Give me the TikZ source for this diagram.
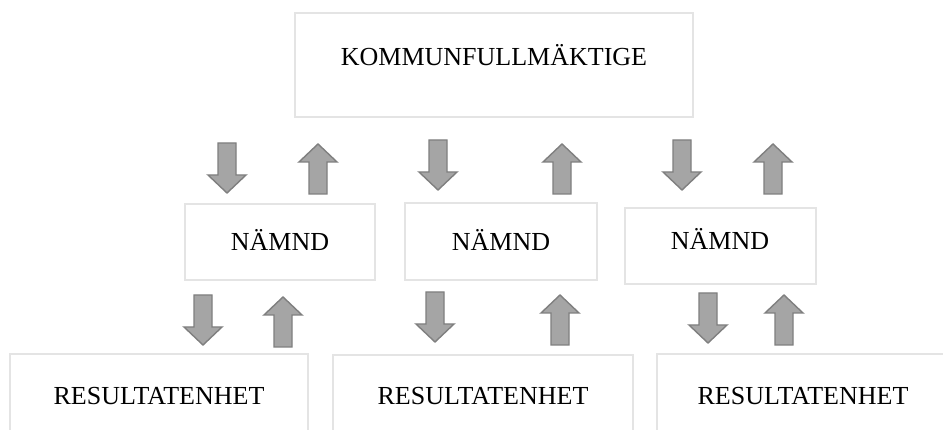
\documentclass[tikz,border=0pt]{standalone}
\usepackage{fontspec}
\setmainfont{Liberation Serif}
\definecolor{boxline}{HTML}{E4E4E4}
\definecolor{arrfill}{HTML}{A5A5A5}
\definecolor{arrline}{HTML}{7F7F7F}
\tikzset{
  orgbox/.style={draw=boxline, line width=2pt, fill=white},
  lbl/.style={anchor=base, inner sep=0pt, font=\fontsize{26}{30}\selectfont},
  blockarrow/.style={fill=arrfill, draw=arrline, line width=1.4pt, line join=miter},
  dnarrow/.pic={\path[blockarrow] (-9,0) -- (9,0) -- (9,32) -- (19,32) -- (0,50) -- (-19,32) -- (-9,32) -- cycle;},
  uparrow/.pic={\path[blockarrow] (-9,0) -- (9,0) -- (9,-32) -- (19,-32) -- (0,-50) -- (-19,-32) -- (-9,-32) -- cycle;}
}
\begin{document}
\begin{tikzpicture}[x=1pt,y=-1pt]
\useasboundingbox (0,0) rectangle (943,430);
\fill[white] (0,0) rectangle (943,430);
% boxes
\draw[orgbox] (295,13) rectangle (693,117);
\node[lbl] (kf) at (494,66) {KOMMUNFULLMÄKTIGE};
\draw[orgbox] (185,204) rectangle (375,280);
\node[lbl] (n1) at (280,251) {NÄMND};
\draw[orgbox] (405,203) rectangle (597,280);
\node[lbl] (n2) at (501,251) {NÄMND};
\draw[orgbox] (625,208) rectangle (816,284);
\node[lbl] (n3) at (720,250) {NÄMND};
\draw[orgbox] (10,354) rectangle (308,445);
\node[lbl] (r1) at (159,405) {RESULTATENHET};
\draw[orgbox] (333,355) rectangle (633,445);
\node[lbl] (r2) at (483,405) {RESULTATENHET};
\draw[orgbox] (657,354) rectangle (960,445);
\node[lbl] (r3) at (803,405) {RESULTATENHET};
% arrows row 1
\pic at (227,143) {dnarrow};
\pic at (318,194) {uparrow};
\pic at (438,140) {dnarrow};
\pic at (562,194) {uparrow};
\pic at (682,140) {dnarrow};
\pic at (773,194) {uparrow};
% arrows row 2
\pic at (203,295) {dnarrow};
\pic at (283,347) {uparrow};
\pic at (435,292) {dnarrow};
\pic at (560,345) {uparrow};
\pic at (708,293) {dnarrow};
\pic at (784,345) {uparrow};
\end{tikzpicture}
\end{document}
